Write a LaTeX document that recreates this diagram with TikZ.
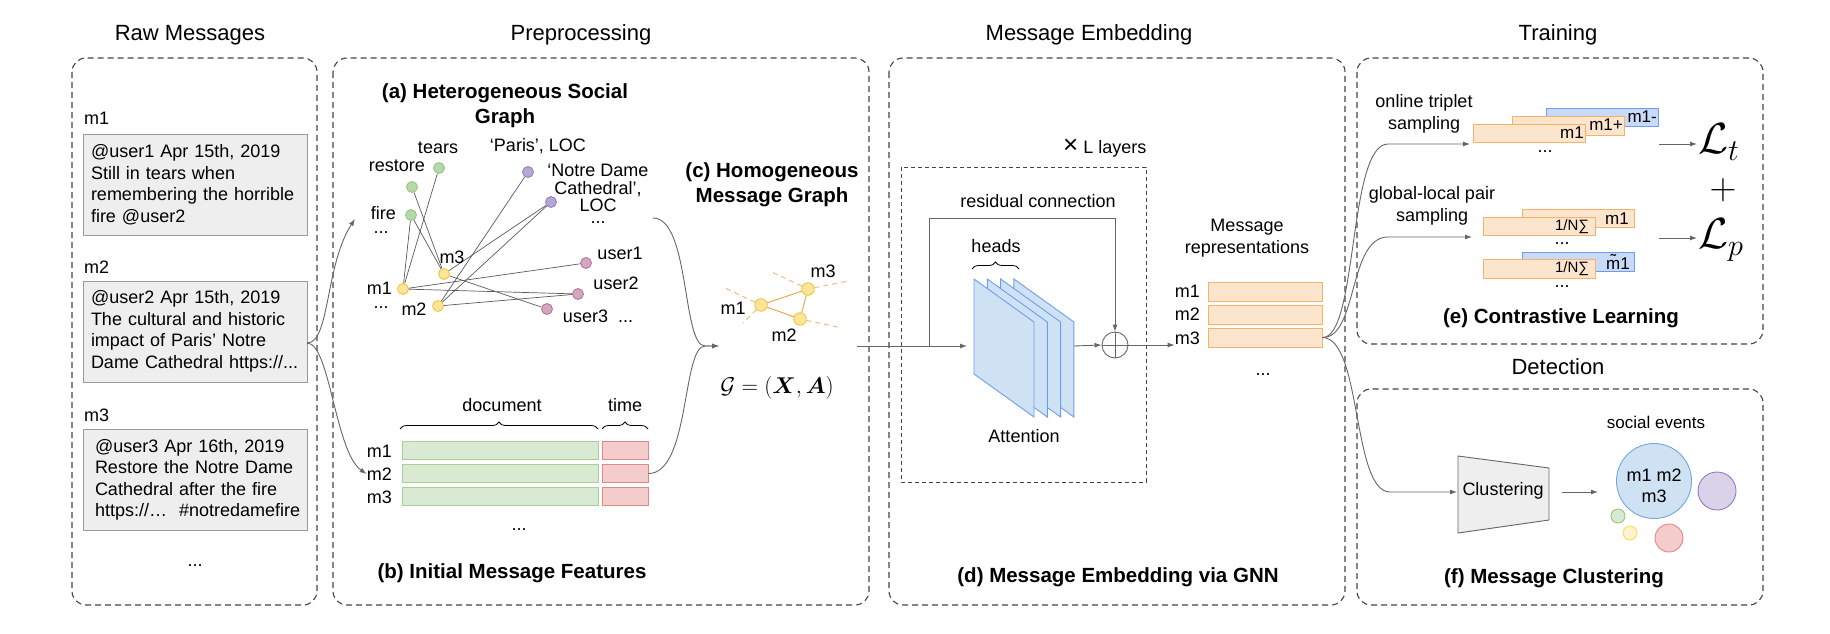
\documentclass[tikz,border=0pt]{standalone}
\usepackage{fontspec}
\setmainfont{Liberation Sans}
\usepackage{amsmath}
\usepackage{bm}
\usetikzlibrary{arrows.meta,decorations.pathreplacing,calc}
\definecolor{dashc}{HTML}{444444}
\definecolor{linec}{HTML}{666666}
\definecolor{msgfill}{HTML}{EEEEEE}
\definecolor{msgdraw}{HTML}{999999}
\definecolor{gfill}{HTML}{B6D7A8}
\definecolor{gdraw}{HTML}{93C47D}
\definecolor{pfill}{HTML}{B4A7D6}
\definecolor{pdraw}{HTML}{8E7CC3}
\definecolor{ufill}{HTML}{D5A6BD}
\definecolor{udraw}{HTML}{B0709A}
\definecolor{yfill}{HTML}{FFE599}
\definecolor{ydraw}{HTML}{F1C232}
\definecolor{rowg}{HTML}{D9EAD3}
\definecolor{rowgd}{HTML}{A8CF97}
\definecolor{rowp}{HTML}{F4CCCC}
\definecolor{rowpd}{HTML}{E08888}
\definecolor{ofill}{HTML}{FCE5CD}
\definecolor{odraw}{HTML}{F6B26B}
\definecolor{bfill}{HTML}{C9DAF8}
\definecolor{bdraw}{HTML}{6D9EEB}
\definecolor{plfill}{HTML}{CFE2F3}
\definecolor{hedge}{HTML}{E6A23C}
\definecolor{hdash}{HTML}{E9B774}
\definecolor{evblue}{HTML}{6FA8DC}
\definecolor{evpurp}{HTML}{D9D2E9}
\definecolor{evyel}{HTML}{FFF2CC}
\definecolor{evyeld}{HTML}{FFD966}
\definecolor{clfill}{HTML}{EEEEEE}
\newcommand{\myfs}[2]{\fontsize{#1}{#2}\selectfont}
\tikzset{
  every node/.style={inner sep=0pt, font=\myfs{18}{21.5}},
  ttl/.style={font=\myfs{22}{26}},
  btl/.style={font=\bfseries\myfs{20.5}{25}, align=center},
  phase/.style={draw=dashc, line width=1.1pt, dash pattern=on 6pt off 4pt, rounded corners=14pt},
  inbox/.style={draw=dashc, line width=0.9pt, dash pattern=on 4pt off 3pt},
  msgbox/.style={draw=msgdraw, fill=msgfill, line width=0.9pt, minimum width=224pt, minimum height=101pt, text width=208pt, inner xsep=8pt, align=left},
  gn/.style={circle, line width=0.8pt, minimum size=11pt, inner sep=0pt},
  gg/.style={gn, draw=gdraw, fill=gfill},
  gp/.style={gn, draw=pdraw, fill=pfill},
  gu/.style={gn, draw=udraw, fill=ufill},
  gy/.style={gn, draw=ydraw, fill=yfill},
  hy/.style={gn, minimum size=12.5pt, draw=ydraw, fill=yfill},
  ge/.style={draw=black!65, line width=0.7pt},
  he/.style={draw=hedge, line width=0.9pt},
  hd/.style={draw=hdash, line width=0.9pt, dash pattern=on 5pt off 4pt},
  arr/.style={draw=linec, line width=0.9pt, -{Latex[length=7pt,width=5pt]}},
  rowgreen/.style={draw=rowgd, fill=rowg, line width=0.9pt, minimum width=196pt, minimum height=18.5pt},
  rowpink/.style={draw=rowpd, fill=rowp, line width=0.9pt, minimum width=46pt, minimum height=18.5pt},
  orect/.style={draw=odraw, fill=ofill, line width=0.9pt, minimum width=112pt, minimum height=18.5pt},
  brect/.style={draw=bdraw, fill=bfill, line width=0.9pt, minimum width=112pt, minimum height=18.5pt},
  reprow/.style={draw=odraw, fill=ofill, line width=0.9pt, minimum width=114pt, minimum height=19pt},
  plane/.style={draw=bdraw, fill=plfill, line width=0.9pt},
  brc/.style={decorate, decoration={brace, amplitude=7pt}, draw=black, line width=0.8pt},
  smt/.style={font=\myfs{17}{20}},
  sst/.style={font=\myfs{15}{18}},
  bigmath/.style={font=\myfs{20}{22}, scale=2.1},
}
\begin{document}
\begin{tikzpicture}[x=1pt,y=-1pt]
\useasboundingbox (0,0) rectangle (1830,634);

% ---------------- Raw messages ----------------
\node[ttl] (tRaw) at (190,35) {Raw Messages};
\draw[phase] (72,58) rectangle (317,605);
\node[anchor=west] (lm1) at (84,118) {m1};
\node[msgbox] (b1) at (195,184.5) {@user1 Apr 15th, 2019\\Still in tears when\\remembering the horrible\\fire @user2};
\node[anchor=west] (lm2) at (84,267) {m2};
\node[msgbox] (b2) at (195,331.5) {@user2 Apr 15th, 2019\\The cultural and historic\\impact of Paris’ Notre\\Dame Cathedral https://...};
\node[anchor=west] (lm3) at (84,415) {m3};
\node[msgbox, text width=200pt, inner xsep=12pt] (b3) at (195,480) {@user3 Apr 16th, 2019\\Restore the Notre Dame\\Cathedral after the fire\\\mbox{https://…\ \ \#notredamefire}};
\node (rdots) at (195,566) {...};
\coordinate (b2o) at (307,343);

% ---------------- Preprocessing ----------------
\node[ttl] (tPre) at (581,35) {Preprocessing};
\draw[phase] (333,58) rectangle (869,605);
\node[btl] (ta) at (505,105.5) {(a) Heterogeneous Social\\Graph};

\node[gg] (ntears) at (439,168) {};
\node[gg] (nrest) at (412,187) {};
\node[gg] (nfire) at (411,215) {};
\node[gp] (nparis) at (528,172) {};
\node[gp] (nndc) at (551,202) {};
\node[gy] (nm3) at (444,274) {};
\node[gy] (nm1) at (403,289) {};
\node[gy] (nm2) at (438,306) {};
\node[gu] (nu1) at (586,263) {};
\node[gu] (nu2) at (578,294) {};
\node[gu] (nu3) at (547,309) {};

\draw[ge] (nm1) -- (nfire);
\draw[ge] (nm1) -- (ntears);
\draw[ge] (nrest) -- (nm3);
\draw[ge] (nfire) -- (nm3);
\draw[ge] (nm3) -- (nndc);
\draw[ge] (nm3) -- (nu3);
\draw[ge] (nm1) -- (nu1);
\draw[ge] (nm1) -- (nu2);
\draw[ge] (nm2) -- (nparis);
\draw[ge] (nm2) -- (nndc);
\draw[ge] (nm2) -- (nu2);

\node (ltears) at (438,148) {tears};
\node[anchor=east] (lrest) at (425,166) {restore};
\node[anchor=east] (lfire) at (396,213) {fire};
\node (ldf) at (381,233) {...};
\node (lparis) at (538,146) {‘Paris’, LOC};
\node[align=center, font=\myfs{18}{17.5}] (lndc) at (598,188) {‘Notre Dame\\Cathedral’,\\LOC};
\node (ldn) at (598,223) {...};
\node (lgm3) at (452,257) {m3};
\node[anchor=east] (lgm1) at (392,288) {m1};
\node (ldm) at (381,308) {...};
\node (lgm2) at (414,309) {m2};
\node (lu1) at (620,253) {user1};
\node (lu2) at (616,283) {user2};
\node (lu3) at (598,316) {user3\ \ ...};

\coordinate (gain) at (355,219);
\coordinate (gaout) at (653,218);

% (b) initial message features
\node (ldoc) at (502,405) {document};
\node (ltime) at (625,405) {time};
\draw[brc] (400,429) -- (598,429);
\draw[brc] (602,429) -- (648,429);
\node[rowgreen] (g1) at (500,450.5) {};
\node[rowgreen] (g2) at (500,473.5) {};
\node[rowgreen] (g3) at (500,496.5) {};
\node[rowpink] (p1) at (625,450.5) {};
\node[rowpink] (p2) at (625,473.5) {};
\node[rowpink] (p3) at (625,496.5) {};
\node[anchor=east] (fm1) at (392,451) {m1};
\node[anchor=east] (fm2) at (392,474) {m2};
\node[anchor=east] (fm3) at (392,497) {m3};
\node (fdots) at (519,530) {...};
\node[btl] (tb) at (512,573) {(b) Initial Message Features};

\draw[arr] (b2o) .. controls (330,343) and (325,265) .. (gain);
\draw[arr] (b2o) .. controls (330,343) and (335,452) .. (fm2.west);

% (c) homogeneous message graph
\node[btl] (tc) at (772,184.5) {(c) Homogeneous\\Message Graph};
\node[hy] (cm1) at (761,305) {};
\node[hy] (cm3) at (808,289) {};
\node[hy] (cm2) at (800,319) {};
\coordinate (d1) at (725,288);
\coordinate (d2) at (743,323);
\coordinate (d3) at (772,272);
\coordinate (d4) at (848,281);
\coordinate (d5) at (842,328);
\draw[hd] (cm1) -- (d1);
\draw[hd] (cm1) -- (d2);
\draw[hd] (cm3) -- (d3);
\draw[hd] (cm3) -- (d4);
\draw[hd] (cm2) -- (d5);
\draw[he] (cm1) -- (cm3);
\draw[he] (cm1) -- (cm2);
\draw[he] (cm2) -- (cm3);
\node (lcm1) at (733,308) {m1};
\node (lcm3) at (823,271) {m3};
\node (lcm2) at (784,335) {m2};
\node[font=\myfs{20}{22}, scale=1.1] (gform) at (777,388) {$\mathcal{G}=(\bm{X},\bm{A})$};

\coordinate (cmerge) at (705,346);
\coordinate (cin) at (719,346);
\draw[arr] (gaout) .. controls (690,218) and (682,346) .. (cmerge) -- (cin);
\draw[arr] (p2.east) .. controls (690,473.5) and (682,346) .. (cmerge) -- (cin);

% ---------------- Message embedding ----------------
\node[ttl] (tEmb) at (1089,35) {Message Embedding};
\draw[phase] (889,58) rectangle (1345,605);
\draw[inbox] (901,167) rectangle (1146,482);
\node[anchor=west] (llay) at (1063,148) {{\myfs{26}{26}×}\hspace{5pt}L layers};
\node (lres) at (1038,201) {residual connection};
\node (lheads) at (996,246) {heads};
\draw[brc] (972,269) -- (1019,269);
\foreach \i in {3,2,1,0} {
  \draw[plane] ({974+13.3*\i},279) -- ++(60,43) -- ++(0,95) -- ++(-60,-43) -- cycle;
}
\node (latt) at (1024,436) {Attention};
\node[circle, draw=linec, line width=0.9pt, minimum size=26pt] (plus) at (1115,345) {};
\draw[linec, line width=0.9pt] (plus.north) -- (plus.south);
\draw[linec, line width=0.9pt] (plus.west) -- (plus.east);

\coordinate (cout) at (857,346);
\coordinate (br) at (929,346);
\coordinate (ain) at (967,346);
\coordinate (aout) at (1074,346);
\draw[arr] (cout) -- (ain);
\draw[arr] (br) -- (929,218) -| (plus.north);
\draw[arr] (aout) -- (plus.west);

\node[align=center, font=\myfs{18}{22}] (lrep) at (1247,238) {Message\\representations};
\node[reprow] (r1) at (1265,291.5) {};
\node[reprow] (r2) at (1265,314.5) {};
\node[reprow] (r3) at (1265,337.5) {};
\node[anchor=east] (rl1) at (1200,291) {m1};
\node[anchor=east] (rl2) at (1200,314) {m2};
\node[anchor=east] (rl3) at (1200,338) {m3};
\node (rdots2) at (1263,375) {...};
\draw[arr] (plus.east) -- (rl3.west |- plus.east);
\node[btl] (td) at (1118,577) {(d) Message Embedding via GNN};

% ---------------- Training ----------------
\node[ttl] (tTr) at (1558,35) {Training};
\draw[phase] (1357,58) rectangle (1763,344);
\node[align=center, font=\myfs{18}{22}] (lots) at (1424,114) {online triplet\\sampling};
\node[align=center, font=\myfs{18}{22}] (lgls) at (1432,206) {global-local pair\\sampling};

\node[brect] (tn) at (1602,117.5) {};
\node[orect] (tp) at (1568,126) {};
\node[orect] (ta1) at (1529.5,133.5) {};
\node[smt, anchor=east] at (1657,117) {m1-};
\node[smt, anchor=east] at (1623,125) {m1+};
\node[smt, anchor=east] at (1584,133) {m1};
\node (tdots) at (1545,152) {...};

\node[orect] (pa) at (1578,218.5) {};
\node[orect] (pb) at (1539,226.5) {};
\node[smt] at (1617,219) {m1};
\node[sst] at (1572,227) {1/N∑};
\node (pdots1) at (1562,244) {...};
\node[brect] (pc) at (1578,262) {};
\node[orect] (pd) at (1539,269) {};
\node[smt] at (1618,262) {\~{m}1};
\node[sst] at (1572,269) {1/N∑};
\node (pdots2) at (1562,287) {...};

\coordinate (ttip) at (1470,144);
\coordinate (ptip) at (1472,237);
\draw[arr] (r3.east) .. controls (1358,338) and (1348,144) .. (1388,144) -- (ttip);
\draw[arr] (r3.east) .. controls (1358,338) and (1348,237) .. (1388,237) -- (ptip);

\node[bigmath] (Lt) at (1719,142) {$\mathcal{L}_t$};
\node[font=\myfs{20}{22}, scale=1.8] (pl) at (1723,190) {$+$};
\node[bigmath] (Lp) at (1721,240) {$\mathcal{L}_p$};
\coordinate (lto) at (1659,144);
\coordinate (lti) at (1697,144);
\coordinate (lpo) at (1659,238);
\coordinate (lpi) at (1697,238);
\draw[arr] (lto) -- (lti);
\draw[arr] (lpo) -- (lpi);
\node[btl] (te) at (1561,318) {(e) Contrastive Learning};

% ---------------- Detection ----------------
\node[ttl] (tDet) at (1558,367) {Detection};
\draw[phase] (1357,389) rectangle (1763,605);
\draw[draw=linec, fill=clfill, line width=0.9pt] (1458,456) -- (1549,468) -- (1549,520) -- (1458,533) -- cycle;
\node (clu) at (1503,491) {Clustering};
\coordinate (cluin) at (1457,492);
\draw[arr] (r3.east) .. controls (1362,338) and (1352,492) .. (1390,492) -- (cluin);
\node[smt] (lse) at (1656,422) {social events};
\node[circle, draw=evblue, fill=plfill, line width=0.9pt, minimum size=75pt] (ev1) at (1654,481) {};
\node[align=center] (ev1t) at (1654,486) {m1 m2\\m3};
\node[circle, draw=pdraw, fill=evpurp, line width=0.9pt, minimum size=38pt] (ev2) at (1717,491) {};
\node[circle, draw=gdraw, fill=rowg, line width=0.9pt, minimum size=14pt] (ev3) at (1618,516) {};
\node[circle, draw=evyeld, fill=evyel, line width=0.9pt, minimum size=14pt] (ev4) at (1630,533) {};
\node[circle, draw=rowpd, fill=rowp, line width=0.9pt, minimum size=28pt] (ev5) at (1669,538) {};
\coordinate (clo) at (1562,492);
\coordinate (evi) at (1598,492);
\draw[arr] (clo) -- (evi);
\node[btl] (tf) at (1554,578) {(f) Message Clustering};
\end{tikzpicture}
\end{document}
